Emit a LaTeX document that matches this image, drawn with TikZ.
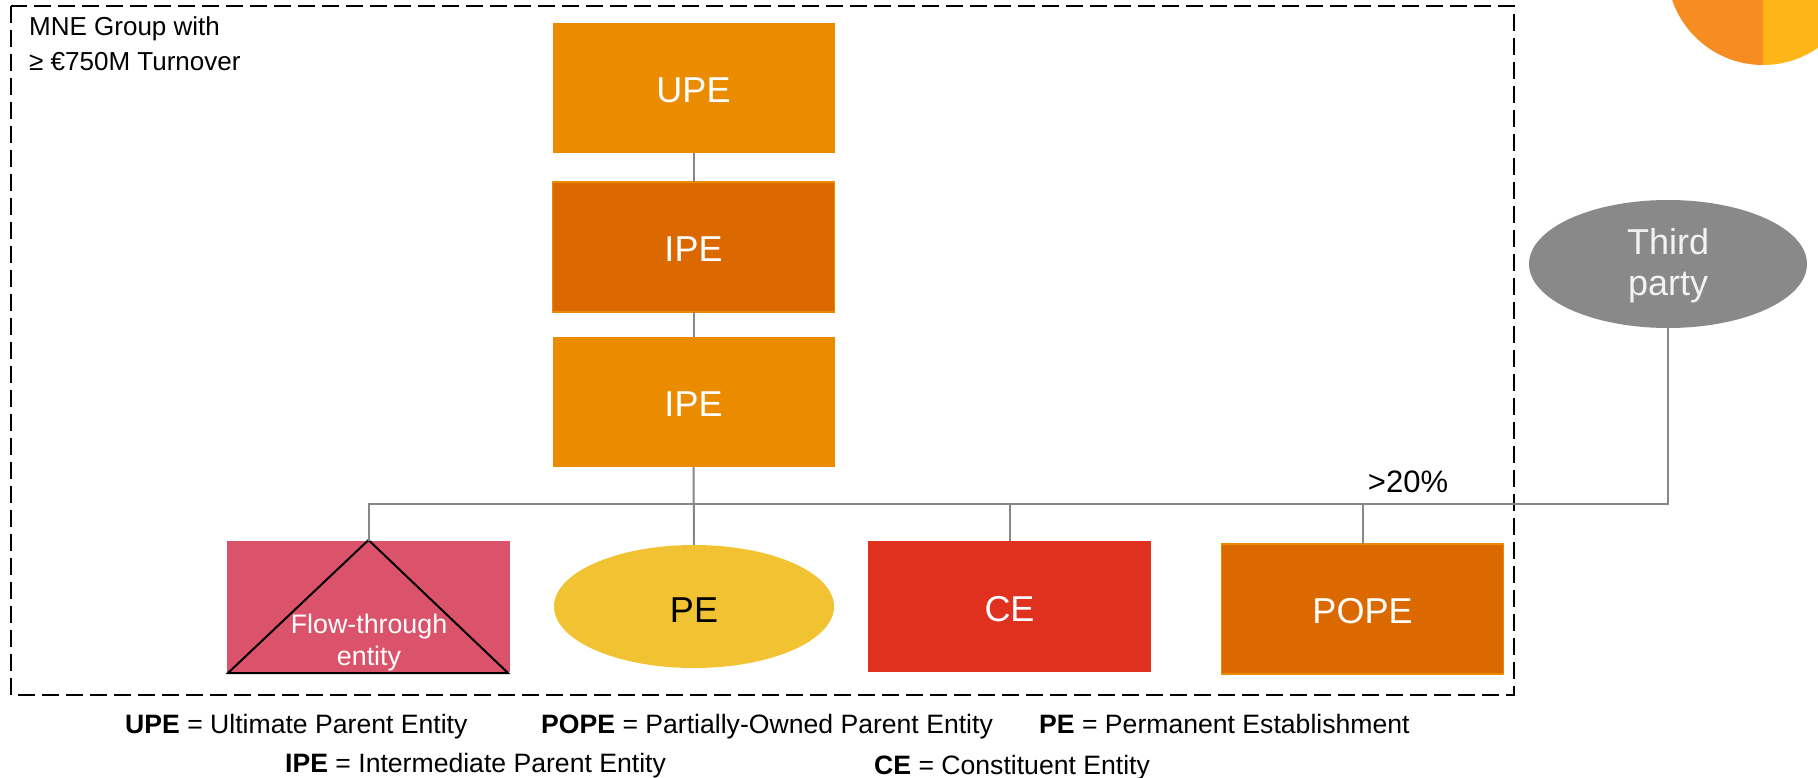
\documentclass[tikz,border=0pt]{standalone}
\usepackage{fontspec}
\setmainfont{Liberation Sans}
\usetikzlibrary{shapes.geometric}
\definecolor{pwcorange}{HTML}{EB8C00}
\definecolor{pwcdark}{HTML}{DC6900}
\definecolor{pwcrose}{HTML}{DB536A}
\definecolor{pwcred}{HTML}{E0301E}
\definecolor{pwcyellow}{HTML}{F1C232}
\definecolor{tpgray}{HTML}{898989}
\definecolor{linegray}{HTML}{878787}
\definecolor{circA}{HTML}{F68D22}
\definecolor{circB}{HTML}{FDB517}
\begin{document}
\begin{tikzpicture}[x=1pt,y=-1pt,
  entbox/.style={rectangle, inner sep=0pt, outer sep=0pt, minimum width=282pt, minimum height=130pt,
     text=white, font=\fontsize{36}{41}\selectfont, text height=29pt, text depth=0pt},
  entell/.style={ellipse, inner sep=0pt, outer sep=0pt, font=\fontsize{36}{41}\selectfont, align=center},
  conn/.style={draw=linegray, line width=2pt},
  legend/.style={anchor=base west, inner sep=0pt, font=\fontsize{26.6}{31}\selectfont},
  grouptext/.style={anchor=base west, inner sep=0pt, font=\fontsize{26}{31}\selectfont},
  groupbox/.style={draw=black, line width=2pt, dash pattern=on 17pt off 7pt}
]
\useasboundingbox (0,0) rectangle (1818,778);

% corner circle
\begin{scope}
  \clip (1600,0) rectangle (1763,200);
  \fill[circA] (1763,-31) circle[radius=96pt];
\end{scope}
\begin{scope}
  \clip (1763,0) rectangle (1818,200);
  \fill[circB] (1763,-31) circle[radius=96pt];
\end{scope}

% group frame
\draw[groupbox] (11,6) rectangle (1514,695);
\node[grouptext] (mne1) at (29,36) {MNE Group with};
\node[grouptext] (mne2) at (29,71) {≥ €750M Turnover};

% entities
\node[entbox, fill=pwcorange] (upe) at (693.5,88) {UPE};
\node[entbox, fill=pwcdark, draw=pwcorange, line width=1.5pt] (ipea) at (693.5,247) {IPE};
\node[entbox, fill=pwcorange] (ipeb) at (693.5,402) {IPE};
\node[entbox, fill=pwcrose, minimum width=283pt, minimum height=131pt] (ft) at (368.5,606.5) {};
\node[entell, fill=pwcyellow, minimum width=280pt, minimum height=123pt, text=black, text height=32pt, text depth=0pt] (pe) at (694,606.5) {PE};
\node[entbox, fill=pwcred, minimum width=283pt, minimum height=131pt] (ce) at (1009.5,606.5) {CE};
\node[entbox, fill=pwcdark, draw=pwcorange, line width=1.5pt] (pope) at (1362.5,609) {POPE};
\node[entell, fill=tpgray, minimum width=278pt, minimum height=128pt, text={white!95!black}] (tp) at (1668,264) {\rule{0pt}{30pt}Third\\[0pt]party};

% flow-through triangle
\draw[black, line width=2pt, line join=miter] ([yshift=1pt]ft.north) -- ([xshift=1pt,yshift=-1pt]ft.south west) -- ([xshift=-2pt,yshift=-1pt]ft.south east) -- cycle;
\node[inner sep=0pt, align=center, text=white, font=\fontsize{26.8}{32.5}\selectfont] (fttext) at (369,642.5) {Flow-through\\entity};

% connectors
\coordinate (bus) at (0,504);
\draw[conn] (upe.south) -- (ipea.north);
\draw[conn] (ipea.south) -- (ipeb.north);
\draw[conn] (ipeb.south) -- (pe.north);
\draw[conn] (ft.north) -- (ft.north |- bus) -- (tp.south |- bus) -- (tp.south);
\draw[conn] (ce.north) -- (ce.north |- bus);
\draw[conn] (pope.north) -- (pope.north |- bus);
\node[inner sep=0pt, font=\fontsize{31}{36}\selectfont] (pct) at (1408,482) {>20\%};

% legend
\node[legend] (l1) at (125,733) {\textbf{UPE} = Ultimate Parent Entity};
\node[legend] (l2) at (541,733) {\textbf{POPE} = Partially-Owned Parent Entity};
\node[legend] (l3) at (1039,733) {\textbf{PE} = Permanent Establishment};
\node[legend] (l4) at (285,772) {\textbf{IPE} = Intermediate Parent Entity};
\node[legend] (l5) at (874,774) {\textbf{CE} = Constituent Entity};
\end{tikzpicture}
\end{document}
